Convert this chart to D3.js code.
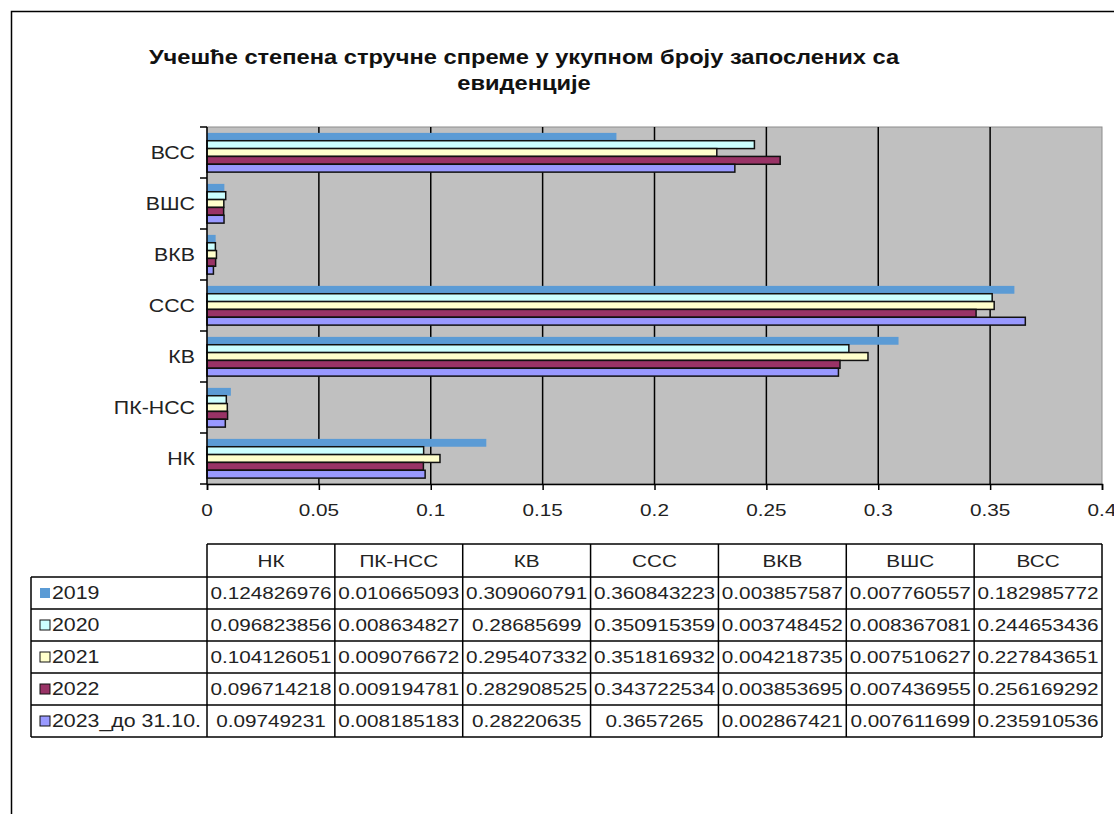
<!DOCTYPE html>
<html><head><meta charset="utf-8">
<script src="https://cdn.jsdelivr.net/npm/d3@7"></script>
<style>
html,body{margin:0;padding:0;background:#fff;}
svg{display:block;}
text{font-family:"Liberation Sans",Arial,sans-serif;fill:#222;}
</style></head>
<body>
<svg id="c" width="1114" height="814"></svg>
<script>
// ---- data ----
const categories = ["НК","ПК-НСС","КВ","ССС","ВКВ","ВШС","ВСС"];
const seriesNames = ["2019","2020","2021","2022","2023_до 31.10."];
const v2019 = [0.124826976,0.010665093,0.309060791,0.360843223,0.003857587,0.007760557,0.182985772];
const v2020 = [0.096823856,0.008634827,0.28685699,0.350915359,0.003748452,0.008367081,0.244653436];
const v2021 = [0.104126051,0.009076672,0.295407332,0.351816932,0.004218735,0.007510627,0.227843651];
const v2022 = [0.096714218,0.009194781,0.282908525,0.343722534,0.003853695,0.007436955,0.256169292];
const v2023 = [0.09749231,0.008185183,0.28220635,0.3657265,0.002867421,0.007611699,0.235910536];
const tableText = [
 ["0.124826976","0.010665093","0.309060791","0.360843223","0.003857587","0.007760557","0.182985772"],
 ["0.096823856","0.008634827","0.28685699","0.350915359","0.003748452","0.008367081","0.244653436"],
 ["0.104126051","0.009076672","0.295407332","0.351816932","0.004218735","0.007510627","0.227843651"],
 ["0.096714218","0.009194781","0.282908525","0.343722534","0.003853695","0.007436955","0.256169292"],
 ["0.09749231","0.008185183","0.28220635","0.3657265","0.002867421","0.007611699","0.235910536"]
];
const xTicks = [0,0.05,0.1,0.15,0.2,0.25,0.3,0.35,0.4];
const titleLines = ["Учешће степена стручне спреме у укупном броју запослених са","евиденције"];
const seriesValues = [v2019,v2020,v2021,v2022,v2023];
const colors = ["#5b9bd5","#ccffff","#ffffcc","#993366","#9999ff"];
const strokes = ["none","#111","#111","#111","#111"];

// ---- layout ----
const svg = d3.select("#c");
const PL=207, PR=1102, PT=127, PB=484;
const SX = 1.22; // horizontal text stretch
function txt(g, x, y, s, size, anchor, weight){
  const t = g.append("text")
    .attr("transform",`translate(${x},${y}) scale(${SX},1)`)
    .attr("font-size",size).attr("text-anchor",anchor||"start")
    .text(s);
  if(weight) t.attr("font-weight",weight);
  return t;
}

// outer frame
svg.append("path").attr("d","M11.5,814 V11.5 H1114").attr("fill","none").attr("stroke","#000").attr("stroke-width",1.5);

// title
titleLines.forEach((l,i)=>txt(svg,524,64+i*26,l,19.4,"middle","bold").style("fill","#111"));

const x = d3.scaleLinear().domain([0,0.4]).range([PL,PR]);
const y = d3.scaleBand().domain(categories.slice().reverse()).range([PT,PB]).padding(0);
const ys = d3.scaleBand().domain(d3.range(seriesNames.length)).range([0,y.bandwidth()]).paddingInner(0).paddingOuter(0.75);

// plot background
svg.append("rect").attr("x",PL).attr("y",PT).attr("width",PR-PL).attr("height",PB-PT).attr("fill","#c0c0c0").attr("stroke","#8c8c8c").attr("stroke-width",1);

// gridlines
svg.append("g").selectAll("line").data(xTicks.slice(1,-1)).join("line")
  .attr("x1",d=>x(d)).attr("x2",d=>x(d)).attr("y1",PT).attr("y2",PB)
  .attr("stroke","#000").attr("stroke-width",1.5);

// bars
seriesValues.forEach((vals,si)=>{
  svg.append("g").selectAll("rect").data(categories.map((c,i)=>({c,v:vals[i]}))).join("rect")
    .attr("x",x(0)).attr("y",d=>y(d.c)+ys(si))
    .attr("width",d=>x(d.v)-x(0)).attr("height",ys.bandwidth())
    .attr("fill",colors[si]).attr("stroke",strokes[si]).attr("stroke-width",1.5);
});

// axes
const xAxis = d3.axisBottom(x).tickValues(xTicks).tickSize(6).tickFormat(d=>String(+d.toFixed(2)));
const gx = svg.append("g").attr("transform",`translate(0,${PB})`).call(xAxis);
gx.select(".domain").attr("stroke","#000").attr("stroke-width",1.5);
gx.selectAll(".tick line").attr("stroke","#000").attr("stroke-width",1.5);
gx.selectAll(".tick text").remove();
xTicks.forEach(t=>txt(gx,x(t),32,String(+t.toFixed(2)),17,"middle"));

const gy = svg.append("g").attr("transform",`translate(${PL},0)`);
gy.append("line").attr("x1",0).attr("x2",0).attr("y1",PT).attr("y2",PB).attr("stroke","#000").attr("stroke-width",1.5);
const bounds = categories.map(c=>y(c)).concat([PB]);
gy.selectAll("line.t").data(bounds).join("line").attr("class","t")
  .attr("x1",-7).attr("x2",0).attr("y1",d=>d).attr("y2",d=>d).attr("stroke","#000").attr("stroke-width",1.5);
categories.forEach(c=>txt(gy,-12,y(c)+y.bandwidth()/2+6,c,17.5,"end"));

// data table
const cx = d3.scaleBand().domain(categories).range([PL,PR]);
const TT=544, HH=33, RH=32, LL=31;
const ry = d3.scaleBand().domain(d3.range(seriesNames.length)).range([TT+HH, TT+HH+RH*seriesNames.length]);
const tg = svg.append("g");
// grid lines
tg.append("line").attr("x1",PL).attr("x2",PR).attr("y1",TT).attr("y2",TT);
d3.range(seriesNames.length+1).forEach(i=>{
  const yy = TT+HH+RH*i;
  tg.append("line").attr("x1",LL).attr("x2",PR).attr("y1",yy).attr("y2",yy);
});
categories.forEach(c=>tg.append("line").attr("x1",cx(c)).attr("x2",cx(c)).attr("y1",TT).attr("y2",TT+HH+RH*seriesNames.length));
tg.append("line").attr("x1",PR).attr("x2",PR).attr("y1",TT).attr("y2",TT+HH+RH*seriesNames.length);
tg.append("line").attr("x1",LL).attr("x2",LL).attr("y1",TT+HH).attr("y2",TT+HH+RH*seriesNames.length);
tg.selectAll("line").attr("stroke","#000").attr("stroke-width",1.5);
// header
categories.forEach(c=>txt(tg,cx(c)+cx.bandwidth()/2,TT+23,c,17,"middle"));
// rows
seriesNames.forEach((s,si)=>{
  const yy = ry(si);
  tg.append("rect").attr("x",LL+9).attr("y",yy+RH/2-5).attr("width",10).attr("height",10)
    .attr("fill",colors[si]).attr("stroke",si===0?"none":"#111").attr("stroke-width",1);
  txt(tg,LL+21,yy+RH/2+6,s,17.5,"start");
  tableText[si].forEach((v,ci)=>txt(tg,cx(categories[ci])+cx.bandwidth()/2,yy+RH/2+6,v,17,"middle"));
});
</script>
</body></html>
